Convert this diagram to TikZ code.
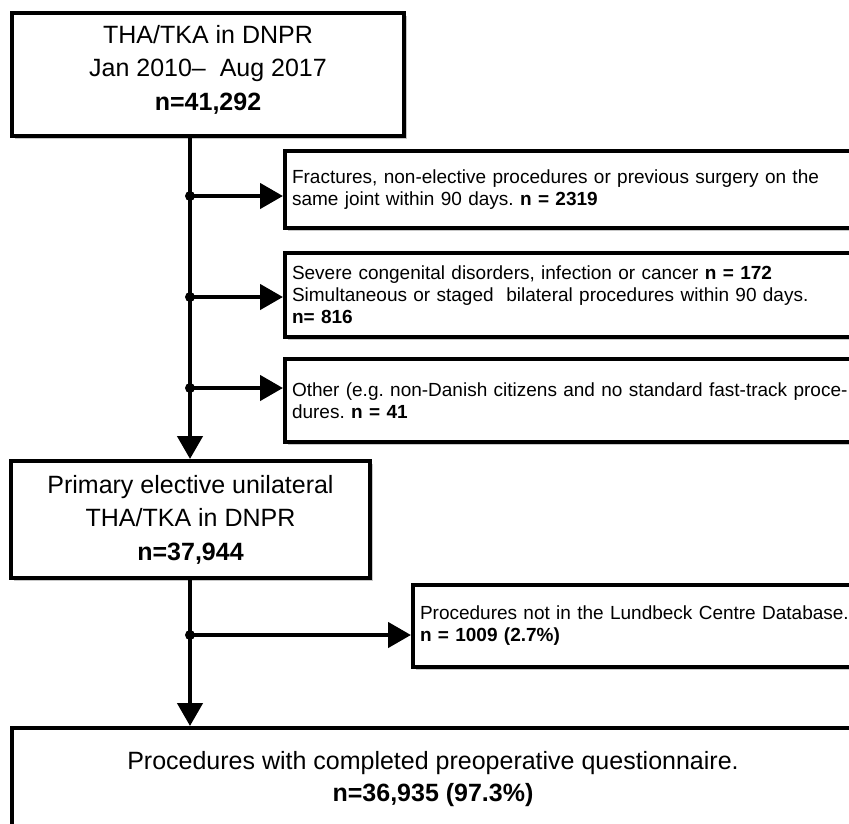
\documentclass[tikz,border=0pt]{standalone}
\usepackage{fontspec}
\setmainfont{Liberation Sans}
\usetikzlibrary{arrows.meta,shadows}
\frenchspacing
\begin{document}
\begin{tikzpicture}[x=1pt,y=-1pt,
  box/.style={draw=black, line width=4pt, fill=white, rectangle,
    drop shadow={shadow xshift=2.5pt, shadow yshift=-2.5pt, opacity=0.22, fill=black}},
  bigbox/.style={box, align=center, font=\fontsize{25}{33.5}\selectfont, inner sep=0pt},
  smallbox/.style={box, align=left, font=\fontsize{19}{22}\selectfont, inner xsep=7pt, inner ysep=0pt},
  conn/.style={line width=4.5pt},
  arrowed/.style={-{Triangle[length=23pt,width=25pt]}},
  jdot/.style={fill=black}
]
\useasboundingbox (0,0) rectangle (849,823);
\clip (0,0) rectangle (849,823);

% main boxes
\node[bigbox, minimum width=392pt, minimum height=123pt] (top) at (208,74.5)
  {THA/TKA in DNPR\\Jan 2010–\ \ Aug 2017\\\textbf{n=41,292}\rule[-14pt]{0pt}{14pt}};
\node[bigbox, minimum width=359pt, minimum height=117pt] (prim) at (190.5,519.5)
  {Primary elective unilateral\\THA/TKA in DNPR\\\textbf{n=37,944}};
\node[bigbox, minimum width=842pt, minimum height=103pt, font=\fontsize{25}{32}\selectfont] (bot) at (433,779.5)
  {Procedures with completed preoperative questionnaire.\\\textbf{n=36,935 (97.3\%)}};

% exclusion boxes
\node[smallbox, text width=581pt, minimum height=77pt] (b1) at (582.5,189.5)
  {Fractures, non-elective procedures or previous surgery on the\\same joint within 90 days. \textbf{n = 2319}};
\node[smallbox, text width=581pt, minimum height=84pt] (b2) at (582.5,295)
  {Severe congenital disorders, infection or cancer \textbf{n = 172}\\Simultaneous or staged\ \ bilateral procedures within 90 days.\\\textbf{n= 816}};
\node[smallbox, text width=581pt, minimum height=83pt] (b3) at (582.5,400.5)
  {Other (e.g. non-Danish citizens and no standard fast-track proce-\\dures. \textbf{n = 41}};
\node[smallbox, text width=453pt, minimum height=82pt] (b4) at (646.5,626)
  {Procedures not in the Lundbeck Centre Database.\\\textbf{n = 1009 (2.7\%)}};

% junctions
\coordinate (j1) at (190,196);
\coordinate (j2) at (190,297);
\coordinate (j3) at (190,388);
\coordinate (j4) at (190,635);

% main flow
\draw[conn, arrowed] (j1 |- top.south) -- (j1 |- prim.north);
\draw[conn, arrowed] (j4 |- prim.south) -- (j4 |- bot.north);

% branches
\draw[conn, arrowed] (j1) -- (j1 -| b1.west);
\draw[conn, arrowed] (j2) -- (j2 -| b2.west);
\draw[conn, arrowed] (j3) -- (j3 -| b3.west);
\draw[conn, arrowed] (j4) -- (j4 -| b4.west);

\foreach \j in {j1,j2,j3,j4} \fill[jdot] (\j) circle (5pt);
\end{tikzpicture}
\end{document}
